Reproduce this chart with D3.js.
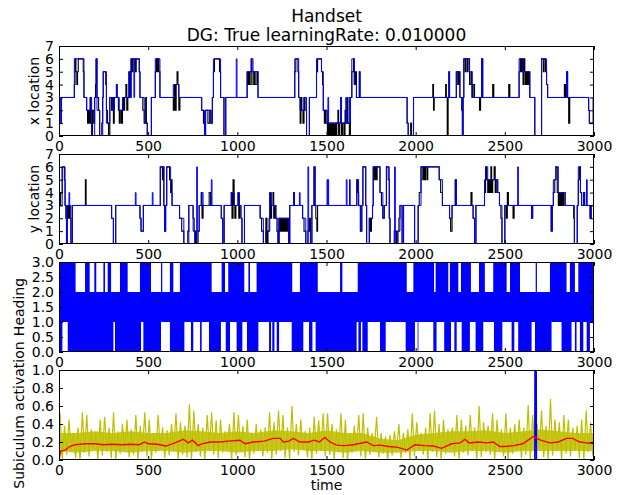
<!DOCTYPE html>
<html>
<head>
<meta charset="utf-8">
<script src="https://cdn.jsdelivr.net/npm/d3@7"></script>
<style>
  body { margin: 0; background: #fff; }
  svg { font-family: "DejaVu Sans", sans-serif; }
  .tick text { font-size: 14px; fill: #000; }
  .tick line { stroke: #000; }
</style>
</head>
<body>
<script>
const width = 626,
      height = 495;

// step series: [time, value] where the value holds until the next time
const xActual = [[0,3],[6,1],[14,3],[86,4],[90,6],[95,5],[100,4],[104,5],[108,6],[136,5],[140,3],[155,2],[160,1],[165,2],[170,1],[175,3],[180,1],[183,0],[188,2],[195,1],[200,3],[205,4],[208,6],[213,3],[222,2],[228,0],[240,1],[245,3],[248,5],[262,4],[266,2],[272,1],[278,0],[285,3],[295,2],[300,3],[305,1],[310,3],[322,4],[326,3],[333,2],[338,1],[343,2],[350,1],[356,3],[362,2],[368,3],[375,4],[380,2],[386,3],[392,5],[398,3],[404,6],[410,5],[415,6],[428,5],[433,6],[450,5],[454,3],[470,2],[478,1],[486,3],[490,1],[495,0],[518,3],[540,5],[545,6],[550,5],[555,6],[560,5],[566,3],[641,2],[646,4],[652,2],[657,4],[662,5],[667,4],[672,2],[678,3],[800,2],[810,1],[816,0],[822,2],[835,1],[845,2],[852,1],[860,3],[866,5],[872,6],[900,5],[906,3],[925,0],[935,3],[1055,5],[1060,4],[1065,5],[1070,4],[1078,6],[1082,5],[1088,4],[1095,5],[1100,4],[1110,5],[1116,3],[1322,5],[1328,6],[1340,5],[1344,3],[1352,1],[1357,3],[1362,2],[1368,1],[1374,3],[1380,2],[1388,0],[1404,3],[1444,5],[1450,6],[1472,5],[1478,4],[1482,2],[1488,1],[1492,2],[1498,1],[1505,0],[1510,1],[1516,0],[1522,1],[1528,0],[1534,1],[1540,0],[1546,1],[1552,0],[1558,1],[1564,2],[1568,0],[1574,1],[1580,3],[1584,0],[1590,1],[1598,0],[1604,2],[1610,1],[1616,3],[1620,1],[1628,0],[1634,3],[1642,5],[1652,6],[1656,4],[1662,5],[1668,3],[1684,5],[1688,3],[1952,1],[1958,0],[1972,1],[1977,0],[1988,3],[2096,4],[2100,2],[2104,3],[2168,4],[2172,3],[2177,0],[2182,3],[2186,5],[2190,3],[2228,5],[2236,4],[2242,5],[2248,3],[2258,2],[2262,0],[2266,3],[2270,6],[2278,5],[2282,6],[2290,5],[2294,6],[2302,4],[2310,5],[2316,3],[2322,4],[2330,3],[2358,2],[2364,3],[2370,6],[2376,3],[2432,4],[2438,3],[2522,4],[2528,3],[2580,5],[2586,6],[2592,5],[2596,6],[2602,4],[2608,6],[2612,5],[2616,4],[2622,5],[2628,4],[2634,5],[2640,3],[2668,0],[2706,6],[2716,5],[2720,6],[2728,5],[2734,4],[2740,3],[2834,4],[2840,3],[2846,5],[2852,3],[2858,1],[2864,3],[2970,2],[2974,1],[2996,3]];

const xDecoded = [[0,3],[6,1],[14,3],[86,6],[140,3],[155,2],[175,3],[183,0],[200,3],[208,6],[213,2],[228,0],[245,3],[248,5],[266,1],[285,3],[300,2],[310,3],[322,4],[326,3],[338,2],[356,3],[392,5],[398,3],[404,6],[420,3],[424,6],[450,5],[454,3],[478,1],[495,0],[518,3],[540,6],[566,3],[641,4],[672,3],[800,2],[816,0],[822,2],[852,1],[860,3],[866,6],[906,3],[925,0],[935,3],[994,6],[998,3],[1055,5],[1078,6],[1088,5],[1116,3],[1322,6],[1344,3],[1352,2],[1374,3],[1388,0],[1404,3],[1444,6],[1472,5],[1482,2],[1505,1],[1508,3],[1512,1],[1580,3],[1584,1],[1608,3],[1612,1],[1628,3],[1632,1],[1634,3],[1642,6],[1656,4],[1668,3],[1684,5],[1688,3],[1952,1],[1958,0],[1988,3],[2186,5],[2190,3],[2228,5],[2248,3],[2262,0],[2266,3],[2270,6],[2302,5],[2316,3],[2370,6],[2376,3],[2580,6],[2602,5],[2640,3],[2668,0],[2706,6],[2734,4],[2740,3],[2846,5],[2852,3],[2970,2],[2974,1],[2996,3]];

const yActual = [[0,3],[9,4],[18,6],[30,5],[34,3],[38,2],[42,0],[46,3],[52,2],[58,3],[63,2],[67,0],[75,3],[148,5],[152,3],[295,2],[305,0],[318,3],[454,2],[460,1],[473,3],[568,6],[580,5],[584,6],[588,3],[592,1],[598,3],[604,6],[620,5],[626,4],[630,5],[634,3],[676,2],[688,1],[700,0],[722,1],[728,3],[752,2],[758,1],[762,0],[768,1],[772,0],[780,1],[786,3],[798,4],[802,2],[808,3],[842,4],[850,3],[910,2],[918,0],[926,3],[966,4],[970,2],[976,5],[982,3],[986,2],[992,3],[1004,4],[1008,2],[1012,3],[1020,2],[1026,0],[1040,3],[1128,2],[1136,1],[1146,0],[1160,2],[1166,0],[1172,1],[1178,2],[1182,4],[1186,2],[1192,3],[1200,4],[1204,2],[1210,3],[1216,2],[1222,1],[1228,0],[1234,2],[1240,1],[1246,2],[1252,1],[1258,2],[1264,1],[1270,2],[1276,1],[1282,2],[1288,0],[1294,3],[1316,4],[1320,3],[1366,2],[1374,1],[1384,0],[1396,1],[1404,2],[1410,0],[1418,3],[1430,6],[1436,3],[1440,2],[1446,1],[1450,3],[1670,5],[1676,4],[1680,3],[1690,1],[1698,3],[1704,6],[1720,3],[1725,0],[1740,2],[1746,1],[1752,2],[1758,3],[1762,6],[1766,5],[1772,6],[1778,5],[1784,6],[1800,4],[1808,3],[1816,2],[1824,3],[1836,6],[1846,5],[1852,2],[1856,0],[1880,1],[1892,0],[1900,1],[1906,2],[1912,3],[1924,0],[1932,3],[1994,0],[2014,3],[2020,4],[2030,6],[2040,5],[2044,6],[2050,5],[2056,6],[2064,5],[2068,6],[2132,5],[2140,4],[2150,3],[2190,2],[2196,1],[2204,3],[2222,5],[2228,3],[2310,4],[2316,3],[2322,2],[2330,0],[2338,3],[2386,4],[2392,6],[2398,5],[2404,4],[2410,5],[2416,4],[2422,6],[2426,4],[2432,5],[2440,6],[2446,4],[2452,5],[2460,4],[2470,3],[2478,2],[2484,0],[2500,3],[2508,2],[2514,4],[2520,3],[2546,2],[2552,3],[2650,2],[2656,3],[2760,1],[2766,3],[2772,4],[2780,5],[2786,6],[2794,4],[2800,3],[2806,4],[2812,3],[2818,4],[2824,3],[2830,4],[2838,3],[2886,2],[2890,0],[2906,3],[2912,5],[2918,6],[2924,4],[2930,3],[2942,4],[2948,3],[2978,2],[2984,3]];

const yDecoded = [[0,3],[18,6],[34,3],[42,0],[46,3],[56,4],[60,3],[67,0],[75,3],[295,2],[305,0],[318,3],[428,4],[432,3],[454,2],[460,1],[473,3],[523,4],[527,3],[568,6],[588,3],[592,1],[598,3],[604,6],[626,4],[634,3],[676,2],[700,0],[728,3],[752,1],[762,0],[772,6],[776,1],[786,3],[798,4],[808,3],[854,5],[858,3],[910,2],[918,0],[926,3],[966,4],[982,3],[1004,4],[1012,3],[1020,2],[1026,0],[1040,3],[1128,2],[1146,0],[1160,1],[1182,4],[1192,3],[1216,2],[1228,0],[1234,2],[1288,0],[1294,3],[1316,4],[1320,3],[1348,4],[1352,3],[1366,2],[1384,0],[1396,6],[1400,1],[1410,0],[1418,3],[1430,6],[1436,3],[1503,5],[1507,3],[1508,5],[1512,3],[1611,5],[1615,3],[1629,5],[1633,3],[1670,5],[1680,3],[1690,1],[1698,3],[1704,6],[1720,3],[1725,0],[1740,2],[1758,3],[1762,6],[1800,4],[1816,2],[1824,3],[1836,6],[1852,2],[1856,0],[1882,6],[1886,0],[1900,1],[1912,3],[1924,0],[1932,3],[1994,0],[2014,3],[2030,6],[2132,5],[2150,3],[2190,2],[2204,3],[2222,5],[2228,3],[2322,2],[2330,0],[2338,3],[2386,5],[2392,6],[2404,5],[2460,4],[2470,3],[2484,0],[2500,3],[2572,6],[2576,3],[2650,2],[2656,3],[2760,1],[2766,3],[2772,5],[2786,6],[2800,4],[2838,3],[2890,0],[2906,3],[2912,6],[2924,4],[2930,3],[2940,4],[2946,3],[2958,5],[2962,3],[2978,2],[2984,3]];

// heading: always switches between 1 and 2; these are the time spans where it never reaches 3 / never drops to 0
const headingNo3 = [[93,146],[172,198],[209,249],[258,273],[292,342],[385,454],[516,572],[579,622],[641,678],[856,912],[931,949],[1039,1062],[1071,1108],[1308,1351],[1451,1576],[1589,1675],[1950,1987],[2103,2112],[2183,2192],[2239,2254],[2310,2355],[2388,2435],[2510,2529],[2585,2673],[2680,2753],[2846,2865],[2893,2912]];
const headingNo0 = [[19,49],[305,314],[460,473],[572,622],[703,740],[753,791],[800,841],[908,935],[959,996],[1028,1054],[1118,1178],[1189,1196],[1208,1221],[1234,1305],[1370,1402],[1421,1439],[1669,1679],[1693,1701],[1731,1800],[1832,1944],[1996,2011],[2015,2099],[2117,2160],[2198,2217],[2230,2258],[2304,2336],[2379,2439],[2486,2538],[2553,2575],[2650,2669],[2762,2818],[2874,2893],[2902,2921],[2940,2959],[2977,3000]];

// subiculum activation: highs and lows of the noisy trace, one pair per 25 steps
const subHighs = [0.52,0.38,0.45,0.30,0.36,0.53,0.50,0.34,0.30,0.45,0.48,0.36,0.53,0.32,0.40,0.45,0.34,0.50,0.38,0.53,0.45,0.30,0.50,0.36,0.33,0.40,0.52,0.42,0.38,0.62,0.55,0.40,0.36,0.50,0.53,0.44,0.45,0.32,0.40,0.53,0.50,0.38,0.45,0.30,0.40,0.34,0.36,0.53,0.42,0.55,0.50,0.36,0.60,0.40,0.45,0.32,0.36,0.48,0.44,0.52,0.52,0.40,0.34,0.52,0.45,0.30,0.38,0.50,0.52,0.36,0.30,0.48,0.30,0.26,0.28,0.32,0.40,0.30,0.34,0.52,0.42,0.30,0.36,0.52,0.55,0.40,0.45,0.34,0.36,0.50,0.45,0.38,0.50,0.36,0.60,0.42,0.38,0.52,0.45,0.34,0.52,0.36,0.40,0.45,0.36,0.61,0.50,0.40,0.55,0.38,0.68,0.45,0.42,0.50,0.45,0.36,0.38,0.45,0.55,0.42];
const subLows = [0.00,0.06,0.10,0.02,0.00,0.08,0.04,0.12,0.00,0.05,0.09,0.02,0.00,0.07,0.11,0.03,0.06,0.00,0.10,0.04,0.00,0.08,0.12,0.02,0.05,0.10,0.00,0.06,0.03,0.00,0.09,0.04,0.00,0.11,0.06,0.02,0.08,0.12,0.00,0.05,0.10,0.03,0.00,0.07,0.11,0.04,0.08,0.00,0.06,0.10,0.02,0.00,0.09,0.05,0.12,0.03,0.00,0.07,0.10,0.04,0.06,0.00,0.09,0.02,0.00,0.08,0.11,0.04,0.00,0.06,0.10,0.03,0.07,0.00,0.05,0.10,0.02,0.08,0.00,0.04,0.11,0.06,0.00,0.09,0.03,0.00,0.07,0.12,0.04,0.00,0.08,0.05,0.10,0.00,0.03,0.09,0.06,0.00,0.11,0.04,0.00,0.07,0.10,0.02,0.06,0.00,0.08,0.12,0.03,0.00,0.05,0.10,0.00,0.07,0.04,0.11,0.02,0.00,0.09,0.05];
// the densely covered core of that trace, every 100 steps
const subCoreHigh = [0.30,0.30,0.32,0.30,0.32,0.30,0.30,0.33,0.32,0.30,0.32,0.30,0.33,0.32,0.30,0.33,0.30,0.30,0.24,0.22,0.28,0.30,0.32,0.32,0.33,0.30,0.32,0.34,0.32,0.30,0.30];
const subCoreLow = [0.10,0.08,0.10,0.10,0.08,0.10,0.10,0.08,0.10,0.10,0.08,0.10,0.10,0.12,0.10,0.10,0.08,0.10,0.08,0.08,0.10,0.10,0.08,0.10,0.10,0.08,0.10,0.10,0.10,0.10,0.10];
const subAverage = [[0,0.0],[10,0.1],[35,0.11],[60,0.15],[90,0.17],[150,0.18],[200,0.18],[250,0.17],[300,0.175],[350,0.17],[400,0.175],[450,0.17],[480,0.2],[500,0.18],[550,0.175],[600,0.155],[650,0.19],[697,0.23],[725,0.19],[748,0.22],[781,0.16],[800,0.18],[850,0.2],[900,0.2],[950,0.21],[1015,0.22],[1043,0.18],[1090,0.2],[1150,0.21],[1200,0.24],[1240,0.24],[1258,0.2],[1290,0.21],[1314,0.24],[1351,0.2],[1400,0.2],[1430,0.22],[1460,0.2],[1491,0.25],[1519,0.2],[1556,0.165],[1600,0.16],[1650,0.17],[1725,0.2],[1762,0.16],[1800,0.165],[1850,0.15],[1900,0.14],[1950,0.11],[1996,0.17],[2050,0.16],[2100,0.155],[2145,0.13],[2201,0.18],[2250,0.19],[2276,0.23],[2300,0.19],[2350,0.2],[2400,0.19],[2435,0.2],[2472,0.15],[2500,0.15],[2550,0.16],[2600,0.18],[2659,0.26],[2700,0.22],[2752,0.19],[2800,0.2],[2846,0.24],[2880,0.24],[2920,0.2],[2960,0.19],[3000,0.18]];
const rewardSignal = [[0,0],[2668,0],[2669,1],[2676,1],[2677,0],[3000,0]];

const timeTicks = [0, 500, 1000, 1500, 2000, 2500, 3000];
const locationTicks = [0, 1, 2, 3, 4, 5, 6, 7];
const headingTicks = [0, 0.5, 1, 1.5, 2, 2.5, 3];
const activationTicks = [0, 0.2, 0.4, 0.6, 0.8, 1.0];

const left = 59, right = 594, panelHeight = 90;
const panelTops = [46, 154, 262, 370];

const svg = d3.select("body").append("svg")
    .attr("width", width)
    .attr("height", height);

const x = d3.scaleLinear().domain([0, 3000]).range([left, right]);

function makePanel(i, yDomain, yTicks, yFormat, label, labelX) {
    const top = panelTops[i];
    const y = d3.scaleLinear().domain(yDomain).range([top + panelHeight, top]);
    const g = svg.append("g");
    const clipId = `clip${i}`;
    svg.append("clipPath").attr("id", clipId)
      .append("rect")
      .attr("x", left).attr("y", top)
      .attr("width", right - left).attr("height", panelHeight);
    const plot = g.append("g").attr("clip-path", `url(#${clipId})`);
    return {y, g, plot, top, yTicks, yFormat, label, labelX};
}

function finishPanel(p) {
    const {y, g, top, yTicks, yFormat, label, labelX} = p;
    const bottom = top + panelHeight;

    g.append("g").attr("transform", `translate(0,${bottom})`)
      .call(d3.axisBottom(x).tickValues(timeTicks).tickFormat(d3.format("d"))
        .tickSizeInner(-4).tickSizeOuter(0).tickPadding(5))
      .call(a => a.select(".domain").remove());
    g.append("g").attr("transform", `translate(0,${top})`)
      .call(d3.axisTop(x).tickValues(timeTicks).tickSizeInner(-4).tickSizeOuter(0).tickFormat(""))
      .call(a => a.select(".domain").remove());
    g.append("g").attr("transform", `translate(${left},0)`)
      .call(d3.axisLeft(y).tickValues(yTicks).tickFormat(yFormat).tickSizeInner(-4).tickSizeOuter(0).tickPadding(5))
      .call(a => a.select(".domain").remove());
    g.append("g").attr("transform", `translate(${right},0)`)
      .call(d3.axisRight(y).tickValues(yTicks).tickSizeInner(-4).tickSizeOuter(0).tickFormat(""))
      .call(a => a.select(".domain").remove());

    g.selectAll(".tick text").attr("font-family", "DejaVu Sans").style("font-size", "14px");

    g.append("rect")
      .attr("x", left + 0.5).attr("y", top + 0.5)
      .attr("width", right - left - 1).attr("height", panelHeight - 1)
      .attr("fill", "none").attr("stroke", "#000").attr("stroke-width", 1);

    g.append("text")
      .attr("transform", `translate(${labelX},${top + panelHeight / 2}) rotate(-90)`)
      .attr("text-anchor", "middle")
      .style("font-size", "14px")
      .text(label);
}

function stepLine(y) {
    return d3.line()
      .x(d => x(d[0]))
      .y(d => y(d[1]))
      .curve(d3.curveStepAfter);
}

function withEnd(series) {
    return series.concat([[3000, series[series.length - 1][1]]]);
}

// panel 1: x location
const p1 = makePanel(0, [0, 7], locationTicks, d3.format("d"), "x location", 39);
p1.plot.append("path").datum(withEnd(xActual))
  .attr("d", stepLine(p1.y)).attr("fill", "none").attr("stroke", "#000").attr("stroke-width", 1.1);
p1.plot.append("path").datum(withEnd(xDecoded))
  .attr("d", stepLine(p1.y)).attr("fill", "none").attr("stroke", "#0000ff").attr("stroke-width", 1);
finishPanel(p1);

// panel 2: y location
const p2 = makePanel(1, [0, 7], locationTicks, d3.format("d"), "y location", 39);
p2.plot.append("path").datum(withEnd(yActual))
  .attr("d", stepLine(p2.y)).attr("fill", "none").attr("stroke", "#000").attr("stroke-width", 1.1);
p2.plot.append("path").datum(withEnd(yDecoded))
  .attr("d", stepLine(p2.y)).attr("fill", "none").attr("stroke", "#0000ff").attr("stroke-width", 1);
finishPanel(p2);

// panel 3: heading, drawn as the range the fast-switching trace covers
function complement(gaps) {
    const runs = [];
    let start = 0;
    gaps.forEach(([a, b]) => {
        if (a > start) runs.push([start, a]);
        start = b;
    });
    if (start < 3000) runs.push([start, 3000]);
    return runs;
}
const p3 = makePanel(2, [0, 3], headingTicks, d3.format(".1f"), "Heading", 24);
const headingBands = [{lo: 1, hi: 2, runs: [[0, 3000]]},
                      {lo: 2, hi: 3, runs: complement(headingNo3)},
                      {lo: 0, hi: 1, runs: complement(headingNo0)}];
headingBands.forEach(band => {
    p3.plot.selectAll(null)
      .data(band.runs)
      .enter().append("rect")
      .attr("x", d => x(d[0]))
      .attr("width", d => Math.max(0.8, x(d[1]) - x(d[0])))
      .attr("y", p3.y(band.hi))
      .attr("height", p3.y(band.lo) - p3.y(band.hi))
      .attr("fill", "#0000ff");
});
finishPanel(p3);

// panel 4: subiculum activation
const p4 = makePanel(3, [0, 1], activationTicks, d3.format(".1f"), "Subiculum activation", 24);
p4.plot.append("path").datum(subCoreHigh.map((h, i) => [i * 100, subCoreLow[i], h]))
  .attr("d", d3.area().x(d => x(d[0])).y0(d => p4.y(d[1])).y1(d => p4.y(d[2])))
  .attr("fill", "#bfbf00").attr("fill-opacity", 0.85);
const subTrace = [];
subHighs.forEach((h, i) => {
    subTrace.push([i * 25 + 6, h]);
    subTrace.push([i * 25 + 18, subLows[i]]);
});
p4.plot.append("path").datum(subTrace)
  .attr("d", d3.line().x(d => x(d[0])).y(d => p4.y(d[1])))
  .attr("fill", "none").attr("stroke", "#bfbf00").attr("stroke-width", 1.2);
p4.plot.append("path").datum(rewardSignal)
  .attr("d", d3.line().x(d => x(d[0])).y(d => p4.y(d[1])))
  .attr("fill", "none").attr("stroke", "#0000ff").attr("stroke-width", 1.5);
p4.plot.append("path").datum(subAverage)
  .attr("d", d3.line().x(d => x(d[0])).y(d => p4.y(d[1])))
  .attr("fill", "none").attr("stroke", "#ff0000").attr("stroke-width", 1.4);
finishPanel(p4);

svg.append("text")
  .attr("x", (left + right) / 2).attr("y", 490)
  .attr("text-anchor", "middle").style("font-size", "14px")
  .text("time");

svg.append("text")
  .attr("x", (left + right) / 2).attr("y", 22)
  .attr("text-anchor", "middle").style("font-size", "17px")
  .text("Handset");
svg.append("text")
  .attr("x", (left + right) / 2).attr("y", 41)
  .attr("text-anchor", "middle").style("font-size", "17px")
  .text("DG: True learningRate: 0.010000");
</script>
</body>
</html>
